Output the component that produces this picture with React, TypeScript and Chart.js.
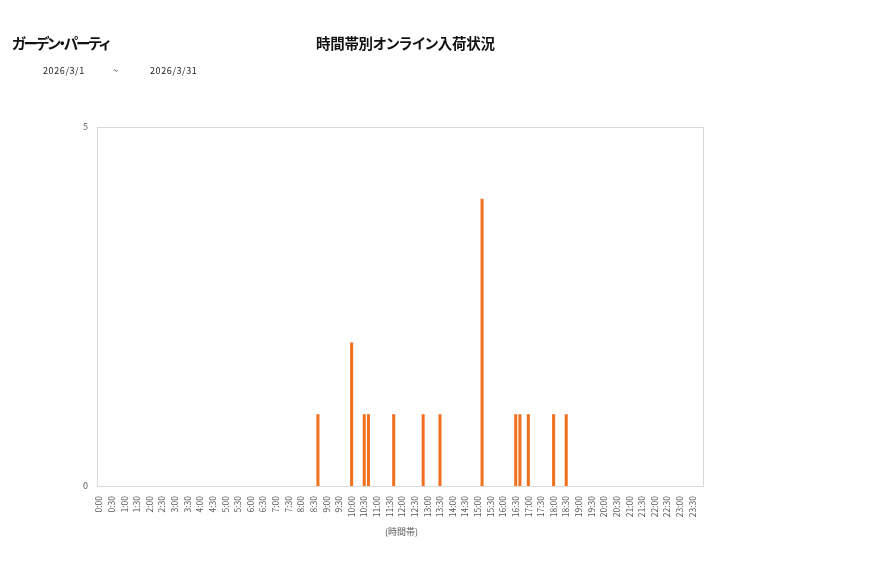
import { useRef, useEffect } from "react";
import { Chart, registerables } from "chart.js";

Chart.register(...registerables);

// 10-minute slots, 0:00 .. 23:50
const hours = Array.from({ length: 24 }, (_, h) => h);
const minutes = ["00", "10", "20", "30", "40", "50"];
const categories = hours.flatMap((h) => minutes.map((m) => `${h}:${m}`));

// arrivals per slot, one row per hour
const arrivals = [
  0, 0, 0, 0, 0, 0, // 0
  0, 0, 0, 0, 0, 0, // 1
  0, 0, 0, 0, 0, 0, // 2
  0, 0, 0, 0, 0, 0, // 3
  0, 0, 0, 0, 0, 0, // 4
  0, 0, 0, 0, 0, 0, // 5
  0, 0, 0, 0, 0, 0, // 6
  0, 0, 0, 0, 0, 0, // 7
  0, 0, 0, 0, 1, 0, // 8
  0, 0, 0, 0, 0, 0, // 9
  2, 0, 0, 1, 1, 0, // 10
  0, 0, 0, 0, 1, 0, // 11
  0, 0, 0, 0, 0, 1, // 12
  0, 0, 0, 1, 0, 0, // 13
  0, 0, 0, 0, 0, 0, // 14
  0, 4, 0, 0, 0, 0, // 15
  0, 0, 0, 1, 1, 0, // 16
  1, 0, 0, 0, 0, 0, // 17
  1, 0, 0, 1, 0, 0, // 18
  0, 0, 0, 0, 0, 0, // 19
  0, 0, 0, 0, 0, 0, // 20
  0, 0, 0, 0, 0, 0, // 21
  0, 0, 0, 0, 0, 0, // 22
  0, 0, 0, 0, 0, 0, // 23
];

const tickLabels = [
  "0:00", "0:30", "1:00", "1:30", "2:00", "2:30", "3:00", "3:30",
  "4:00", "4:30", "5:00", "5:30", "6:00", "6:30", "7:00", "7:30",
  "8:00", "8:30", "9:00", "9:30", "10:00", "10:30", "11:00", "11:30",
  "12:00", "12:30", "13:00", "13:30", "14:00", "14:30", "15:00", "15:30",
  "16:00", "16:30", "17:00", "17:30", "18:00", "18:30", "19:00", "19:30",
  "20:00", "20:30", "21:00", "21:30", "22:00", "22:30", "23:00", "23:30",
];

const FONT = "'Noto Sans CJK JP', 'Noto Sans', sans-serif";

const plotBorder = {
  id: "plotBorder",
  beforeDatasetsDraw(chart: Chart) {
    const { ctx, chartArea } = chart;
    ctx.save();
    ctx.strokeStyle = "#d9d9d9";
    ctx.lineWidth = 1;
    ctx.strokeRect(
      Math.round(chartArea.left) + 0.5,
      Math.round(chartArea.top) + 0.5,
      Math.round(chartArea.right - chartArea.left),
      Math.round(chartArea.bottom - chartArea.top)
    );
    ctx.restore();
  },
};

export default function App() {
  const canvasRef = useRef<HTMLCanvasElement>(null);

  useEffect(() => {
    const ctx = canvasRef.current?.getContext("2d");
    if (!ctx) return;

    const chart = new Chart(ctx, {
      type: "bar",
      data: {
        labels: categories,
        datasets: [
          {
            data: arrivals,
            backgroundColor: "#f07020",
            barPercentage: 0.72,
            categoryPercentage: 1,
          },
        ],
      },
      options: {
        animation: false,
        responsive: false,
        maintainAspectRatio: false,
        layout: { padding: { left: 0, top: 127, right: 174, bottom: 30 } },
        plugins: {
          legend: { display: false },
          tooltip: { enabled: false },
        },
        scales: {
          x: {
            grid: { display: false },
            border: { display: false },
            afterFit: (scale: any) => {
              scale.height = 62;
            },
            ticks: {
              autoSkip: false,
              maxRotation: 90,
              minRotation: 90,
              padding: 2,
              color: "#595959",
              font: { family: FONT, size: 8.5 },
              callback: (_v: any, i: number) => (i % 3 === 0 ? tickLabels[i / 3] : ""),
            },
          },
          y: {
            min: 0,
            max: 5,
            grid: { display: false },
            border: { display: false },
            afterFit: (scale: any) => {
              scale.width = 97;
            },
            ticks: {
              stepSize: 5,
              padding: 1,
              color: "#595959",
              font: { family: FONT, size: 9 },
            },
          },
        },
      },
      plugins: [plotBorder],
    });

    return () => chart.destroy();
  }, []);

  const abs = (left: number, top: number, extra: any = {}) => ({
    position: "absolute" as const,
    left,
    top,
    whiteSpace: "nowrap" as const,
    fontFamily: FONT,
    fontFeatureSettings: '"palt"',
    lineHeight: 1,
    ...extra,
  });

  return (
    <div style={{ position: "absolute", left: 0, top: 0, width: 877, height: 578, background: "#fff" }}>
      <canvas ref={canvasRef} width={877} height={578} style={{ position: "absolute", left: 0, top: 0 }} />
      <div style={abs(12, 36, { fontSize: 14.5, fontWeight: 700, color: "#111", letterSpacing: -2 })}>ガーデン・パーティ</div>
      <div style={abs(316, 36, { fontSize: 14.5, fontWeight: 700, color: "#111", letterSpacing: -0.3 })}>時間帯別オンライン入荷状況</div>
      <div style={abs(43, 66, { fontSize: 9, color: "#222", letterSpacing: 0.6 })}>2026/3/1</div>
      <div style={abs(113, 66, { fontSize: 9, color: "#222" })}>~</div>
      <div style={abs(150, 66, { fontSize: 9, color: "#222", letterSpacing: 0.6 })}>2026/3/31</div>
      <div style={abs(385, 527, { fontSize: 9, color: "#595959" })}>(時間帯)</div>
    </div>
  );
}
